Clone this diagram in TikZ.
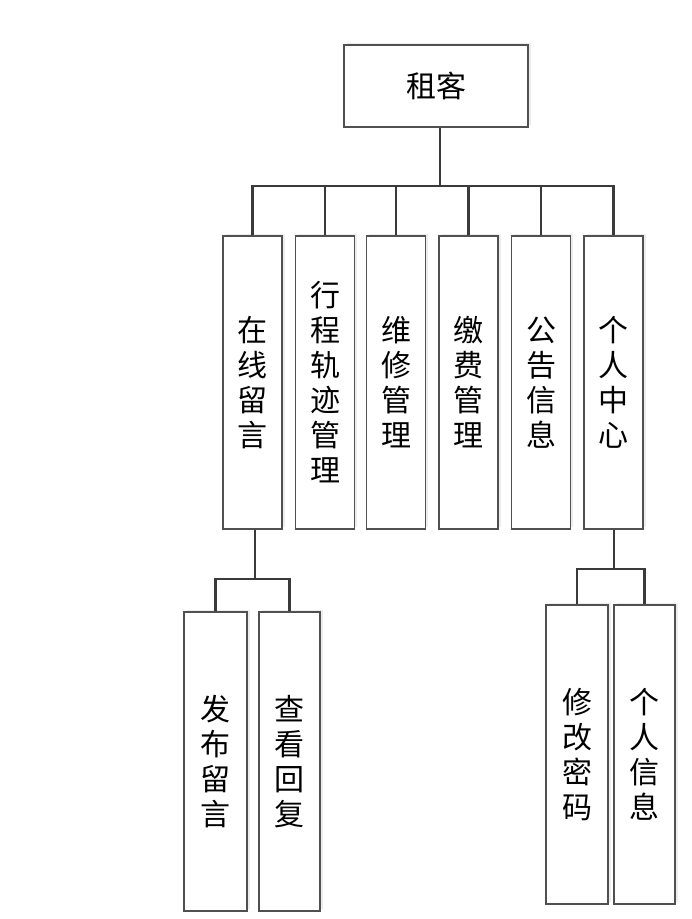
\documentclass[tikz,border=0pt]{standalone}
\usepackage{fontspec}
\newfontfamily\cjk{Noto Sans CJK SC}
\usetikzlibrary{shadows}
\definecolor{boxline}{HTML}{505050}
\definecolor{connline}{HTML}{3A3A3A}
\tikzset{
  box/.style={draw=boxline, line width=1.2pt, fill=white, inner sep=0pt,
    align=center, font=\cjk\fontsize{30}{35}\selectfont,
    drop shadow={shadow xshift=2.5pt, shadow yshift=2.5pt, fill=black!7, opacity=1}},
  conn/.style={draw=connline, line width=2.2pt}
}
\begin{document}
\begin{tikzpicture}[x=1pt,y=-1pt]
\useasboundingbox (0,0) rectangle (692,919);
\node[box, minimum width=184pt, minimum height=82pt] (top) at (436,86) {租客};
% middle row
\foreach \n/\x/\t in {m1/252.5/{在\\线\\留\\言}, m2/325/{行\\程\\轨\\迹\\管\\理}, m3/396/{维\\修\\管\\理}, m4/468.5/{缴\\费\\管\\理}, m5/541/{公\\告\\信\\息}, m6/613.5/{个\\人\\中\\心}}
  \node[box, minimum width=59pt, minimum height=293pt] (\n) at (\x,382.5) {\t};
% lower left
\node[box, minimum width=63pt, minimum height=299pt] (a) at (215.5,761.5) {发\\布\\留\\言};
\node[box, minimum width=61pt, minimum height=299pt] (b) at (289.5,761.5) {查\\看\\回\\复};
% lower right
\node[box, minimum width=62pt, minimum height=299pt] (c) at (577,754.5) {修\\改\\密\\码};
\node[box, minimum width=61pt, minimum height=299pt] (d) at (644.5,754.5) {个\\人\\信\\息};
% connectors
\coordinate (j0) at (440,186);
\draw[conn] (top.south -| j0) -- (j0);
\foreach \n in {m1,m2,m3,m4,m5,m6}
  \draw[conn] (j0) -| (\n.north);
\coordinate (j1) at (255,579);
\draw[conn] (m1.south -| j1) -- (j1);
\draw[conn] (j1) -| (a.north);
\draw[conn] (j1) -| (b.north);
\coordinate (j2) at (614,569);
\draw[conn] (m6.south -| j2) -- (j2);
\draw[conn] (j2) -| (c.north);
\draw[conn] (j2) -| (d.north);
\end{tikzpicture}
\end{document}
